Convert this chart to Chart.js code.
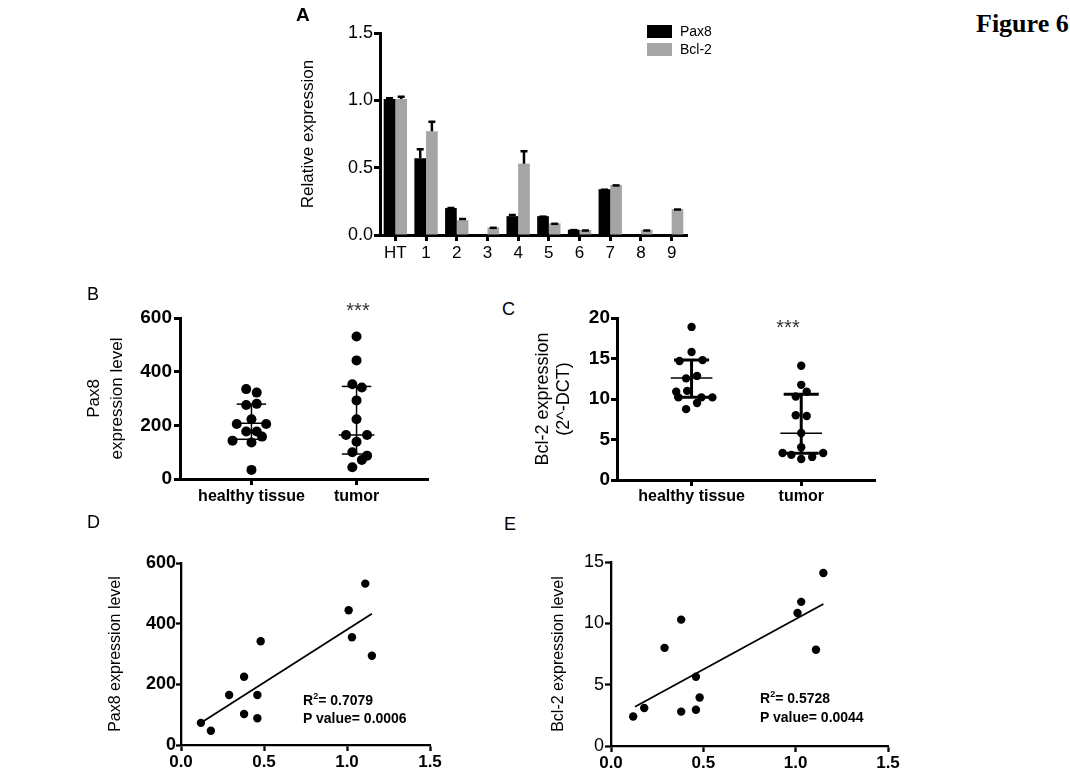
<!DOCTYPE html>
<html>
<head>
<meta charset="utf-8">
<script src="https://cdn.jsdelivr.net/npm/chart.js@4.4.0/dist/chart.umd.min.js"></script>
<style>
  body { margin: 0; background: #fff; }
  #page { position: relative; width: 1070px; height: 783px; overflow: hidden; font-family: "Liberation Sans", Arial, sans-serif; }
  canvas { position: absolute; }
  .txt { position: absolute; line-height: 1; white-space: nowrap; color: #000; }
  .legrow { height: 18px; display: flex; align-items: center; font-size: 14px; }
  .box { width: 25px; height: 13px; margin-right: 8px; }
</style>
</head>
<body>
<div id="page">
  <canvas id="chartA" width="430" height="270" style="left:290px;top:0px"></canvas>
  <canvas id="chartB" width="370" height="230" style="left:80px;top:280px"></canvas>
  <canvas id="chartC" width="360" height="220" style="left:520px;top:290px"></canvas>
  <canvas id="chartD" width="370" height="273" style="left:80px;top:510px"></canvas>
  <canvas id="chartE" width="370" height="273" style="left:540px;top:510px"></canvas>

  <div class="txt" style="left:976px;top:9px;font:bold 26px 'Liberation Serif', 'Times New Roman', serif;">Figure 6</div>
  <div class="txt" style="left:296px;top:5px;font-size:19px;font-weight:bold;">A</div>
  <div class="txt" style="left:87px;top:285px;font-size:18px;">B</div>
  <div class="txt" style="left:502px;top:300px;font-size:18px;">C</div>
  <div class="txt" style="left:87px;top:513px;font-size:18px;">D</div>
  <div class="txt" style="left:504px;top:515px;font-size:18px;">E</div>

  <div class="txt" style="left:328px;top:300px;width:60px;text-align:center;font-size:20px;color:#333;">***</div>
  <div class="txt" style="left:758px;top:317px;width:60px;text-align:center;font-size:20px;color:#333;">***</div>

  <div class="txt" style="left:303px;top:692px;font-size:14px;font-weight:bold;">R<sup style="font-size:9px;">2</sup>= 0.7079</div>
  <div class="txt" style="left:303px;top:711px;font-size:14px;font-weight:bold;">P value= 0.0006</div>
  <div class="txt" style="left:760px;top:690px;font-size:14px;font-weight:bold;">R<sup style="font-size:9px;">2</sup>= 0.5728</div>
  <div class="txt" style="left:760px;top:710px;font-size:14px;font-weight:bold;">P value= 0.0044</div>

  <div id="legendA" class="txt" style="left:647px;top:22px;"></div>
</div>
<script>
// A: relative expression per sample
const samples = ['HT', '1', '2', '3', '4', '5', '6', '7', '8', '9'];
const seriesNames = ['Pax8', 'Bcl-2'];
const pax8Rel = [1.01, 0.57, 0.20, 0, 0.14, 0.14, 0.04, 0.34, 0, 0];
const pax8Err = [0.01, 0.07, 0.005, 0, 0.012, 0, 0, 0, 0, 0];
const bcl2Rel = [1.01, 0.77, 0.11, 0.057, 0.53, 0.087, 0.037, 0.372, 0.037, 0.193];
const bcl2Err = [0.02, 0.075, 0.012, 0, 0.095, 0, 0, 0, 0, 0];

// B: Pax8 expression level (dot plot)
const groups = ['healthy tissue', 'tumor'];
const pax8HealthyX = [0.95, 1.05, 0.95, 1.05, 1.00, 0.86, 1.14, 0.95, 1.05, 0.82, 1.10, 1.00, 1.00];
const pax8Healthy = [335, 322, 276, 280, 223, 205, 205, 177, 177, 143, 158, 136, 34];
const pax8TumorX = [2.00, 2.00, 1.96, 2.05, 2.00, 2.00, 1.90, 2.10, 2.00, 1.96, 2.10, 2.05, 1.96];
const pax8Tumor = [531, 442, 353, 341, 293, 223, 164, 164, 139, 100, 87, 71, 44];
const pax8HealthyStats = [148, 208, 279];
const pax8TumorStats = [93, 164, 345];

// C: Bcl-2 expression (2^-DCT)
const bcl2HealthyX = [1.00, 1.00, 0.89, 1.10, 0.95, 1.05, 0.86, 0.96, 0.88, 1.09, 1.19, 1.05, 0.95];
const bcl2Healthy = [18.9, 15.8, 14.7, 14.8, 12.55, 12.85, 10.9, 11.0, 10.2, 10.2, 10.2, 9.5, 8.75];
const bcl2TumorX = [2.00, 2.00, 2.05, 1.95, 1.95, 2.05, 2.00, 2.00, 1.83, 1.91, 2.00, 2.10, 2.20];
const bcl2Tumor = [14.1, 11.75, 10.9, 10.3, 8.0, 7.9, 5.8, 4.05, 3.33, 3.1, 2.6, 2.85, 3.33];
const bcl2HealthyStats = [10.23, 12.6, 14.8];
const bcl2TumorStats = [3.3, 5.77, 10.6];

// D, E: correlation with tumor relative expression
const tumorRel = [0.12, 0.18, 0.29, 0.38, 0.38, 0.46, 0.46, 0.48, 1.01, 1.03, 1.11, 1.15];
const pax8Level = [73, 47, 165, 225, 102, 165, 88, 342, 444, 355, 532, 294];
const bcl2Level = [2.4, 3.1, 8.0, 10.3, 2.8, 5.65, 2.95, 3.95, 10.85, 11.75, 7.85, 14.1];
const fitX = [0.13, 1.15];
const pax8FitY = [77, 433];
const bcl2FitY = [3.2, 11.57];

const black = '#000';
const barColors = ['#000000', '#a5a5a5'];

Chart.defaults.font.family = "'Liberation Sans', Arial, sans-serif";
Chart.defaults.color = black;

const toPoints = (xs, ys) => xs.map((x, i) => ({ x: x, y: ys[i] }));
const gridOf = (lw, len) => ({ drawOnChartArea: false, drawTicks: true, tickLength: len, tickWidth: lw, tickColor: black, offset: false });
const borderOf = (lw) => ({ display: true, color: black, width: lw });
const fixW = (w) => (s) => { s.width = w; };
const fixH = (h) => (s) => { s.height = h; };
const onlyTicks = (vals) => (s) => { s.ticks = vals.map(v => ({ value: v })); };

const errorBars = {
    id: 'errorBars',
    afterDatasetsDraw(chart) {
        const ctx = chart.ctx;
        const y = chart.scales.y;
        chart.data.datasets.forEach((ds, i) => {
            chart.getDatasetMeta(i).data.forEach((bar, j) => {
                const v = ds.data[j];
                if (!v) return;
                const top = y.getPixelForValue(v + ds.errors[j]);
                ctx.save();
                ctx.strokeStyle = black;
                ctx.lineWidth = 2.5;
                ctx.beginPath();
                ctx.moveTo(bar.x, bar.y);
                ctx.lineTo(bar.x, top);
                ctx.moveTo(bar.x - 3.5, top + 0.5);
                ctx.lineTo(bar.x + 3.5, top + 0.5);
                ctx.stroke();
                ctx.restore();
            });
        });
    }
};

const summaryLines = {
    id: 'summaryLines',
    beforeDatasetsDraw(chart, args, opts) {
        const ctx = chart.ctx;
        const x = chart.scales.x, y = chart.scales.y;
        const seg = (x0, v0, x1, v1, w) => {
            ctx.lineWidth = w;
            ctx.beginPath();
            ctx.moveTo(x.getPixelForValue(x0), y.getPixelForValue(v0));
            ctx.lineTo(x.getPixelForValue(x1), y.getPixelForValue(v1));
            ctx.stroke();
        };
        ctx.save();
        ctx.strokeStyle = black;
        chart.data.datasets.forEach((ds) => {
            const c = ds.center;
            const lo = ds.stats[0], mid = ds.stats[1], hi = ds.stats[2];
            seg(c, lo, c, hi, opts.barWidth);
            seg(c - opts.barHalf, lo, c + opts.barHalf, lo, opts.barWidth);
            seg(c - opts.barHalf, hi, c + opts.barHalf, hi, opts.barWidth);
            seg(c - opts.midHalf, mid, c + opts.midHalf, mid, opts.midWidth);
        });
        ctx.restore();
    }
};

// legend for A
const legendA = document.getElementById('legendA');
seriesNames.forEach((name, i) => {
    const row = document.createElement('div');
    row.className = 'legrow';
    row.innerHTML = '<span class="box" style="background:' + barColors[i] + '"></span>' + name;
    legendA.appendChild(row);
});

new Chart(document.getElementById('chartA'), {
    type: 'bar',
    data: {
        labels: samples,
        datasets: [
            { label: seriesNames[0], data: pax8Rel, errors: pax8Err, backgroundColor: barColors[0] },
            { label: seriesNames[1], data: bcl2Rel, errors: bcl2Err, backgroundColor: barColors[1] }
        ]
    },
    options: {
        responsive: false,
        animation: false,
        layout: { padding: { top: 33, right: 33, left: 0, bottom: 0 } },
        plugins: { legend: { display: false }, tooltip: { enabled: false } },
        datasets: { bar: { categoryPercentage: 0.76, barPercentage: 1.0 } },
        scales: {
            x: {
                grid: gridOf(3, 6),
                border: borderOf(3),
                ticks: { font: { size: 17 }, padding: 2, autoSkip: false, maxRotation: 0 },
                afterFit: fixH(35)
            },
            y: {
                min: 0,
                max: 1.5,
                grid: gridOf(3, 6),
                border: borderOf(3),
                ticks: { stepSize: 0.5, font: { size: 18 }, padding: 1, callback: v => v.toFixed(1) },
                title: { display: true, text: 'Relative expression', font: { size: 17 }, padding: { top: 8, bottom: 0 } },
                afterFit: fixW(90)
            }
        }
    },
    plugins: [errorBars]
});

new Chart(document.getElementById('chartB'), {
    type: 'scatter',
    data: {
        datasets: [
            { data: toPoints(pax8HealthyX, pax8Healthy), center: 1, stats: pax8HealthyStats },
            { data: toPoints(pax8TumorX, pax8Tumor), center: 2, stats: pax8TumorStats }
        ]
    },
    options: {
        responsive: false,
        animation: false,
        layout: { padding: { top: 38, right: 22, left: 0, bottom: 0 } },
        elements: { point: { radius: 5, backgroundColor: black, borderWidth: 0 } },
        plugins: {
            legend: { display: false }, tooltip: { enabled: false },
            summaryLines: { barWidth: 1.5, barHalf: 0.14, midWidth: 1.5, midHalf: 0.17 }
        },
        scales: {
            x: {
                min: 0.32,
                max: 2.68,
                grid: gridOf(3, 6),
                border: borderOf(3),
                ticks: { font: { size: 16, weight: 'bold' }, padding: 2, autoSkip: false, maxRotation: 0, callback: v => groups[v - 1] },
                afterBuildTicks: onlyTicks([1, 2]),
                afterFit: fixH(31)
            },
            y: {
                min: 0,
                max: 600,
                grid: gridOf(3, 6),
                border: borderOf(3),
                ticks: { stepSize: 200, font: { size: 19, weight: 'bold' }, padding: 2 },
                title: { display: true, text: ['Pax8', 'expression level'], font: { size: 17, lineHeight: 1.4 }, padding: { top: 2, bottom: 0 } },
                afterFit: fixW(100)
            }
        }
    },
    plugins: [summaryLines]
});

new Chart(document.getElementById('chartC'), {
    type: 'scatter',
    data: {
        datasets: [
            { data: toPoints(bcl2HealthyX, bcl2Healthy), center: 1, stats: bcl2HealthyStats },
            { data: toPoints(bcl2TumorX, bcl2Tumor), center: 2, stats: bcl2TumorStats }
        ]
    },
    options: {
        responsive: false,
        animation: false,
        layout: { padding: { top: 28, right: 2, left: 0, bottom: 0 } },
        elements: { point: { radius: 4.2, backgroundColor: black, borderWidth: 0 } },
        plugins: {
            legend: { display: false }, tooltip: { enabled: false },
            summaryLines: { barWidth: 3, barHalf: 0.16, midWidth: 1.5, midHalf: 0.19 }
        },
        scales: {
            x: {
                min: 0.32,
                max: 2.68,
                grid: gridOf(3, 6),
                border: borderOf(3),
                ticks: { font: { size: 16, weight: 'bold' }, padding: 1, autoSkip: false, maxRotation: 0, callback: v => groups[v - 1] },
                afterBuildTicks: onlyTicks([1, 2]),
                afterFit: fixH(30)
            },
            y: {
                min: 0,
                max: 20,
                grid: gridOf(3, 6),
                border: borderOf(3),
                ticks: { stepSize: 5, font: { size: 19, weight: 'bold' }, padding: 1 },
                title: { display: true, text: ['Bcl-2 expression', '(2^-DCT)'], font: { size: 18, lineHeight: 1.2 }, padding: { top: 12, bottom: 0 } },
                afterFit: fixW(97)
            }
        }
    },
    plugins: [summaryLines]
});

function corrChart(id, ys, fitY, opts) {
    return new Chart(document.getElementById(id), {
        type: 'scatter',
        data: {
            datasets: [
                { data: toPoints(tumorRel, ys), pointRadius: 4.2, backgroundColor: black, borderWidth: 0 },
                { data: toPoints(fitX, fitY), showLine: true, pointRadius: 0, borderColor: black, borderWidth: 1.8 }
            ]
        },
        options: {
            responsive: false,
            animation: false,
            layout: { padding: { top: opts.top, right: opts.right, left: 0, bottom: 0 } },
            plugins: { legend: { display: false }, tooltip: { enabled: false } },
            scales: {
                x: {
                    min: 0,
                    max: 1.5,
                    grid: gridOf(2.3, 6),
                    border: borderOf(2.3),
                    ticks: { stepSize: 0.5, font: { size: 17, weight: 'bold' }, padding: 1, callback: v => v.toFixed(1) },
                    afterFit: fixH(opts.xh)
                },
                y: {
                    min: 0,
                    max: opts.ymax,
                    grid: gridOf(2.3, opts.ytick),
                    border: borderOf(2.3),
                    ticks: { stepSize: opts.ystep, font: { size: 18, weight: opts.yweight }, padding: opts.ypad },
                    title: { display: true, text: opts.title, font: { size: 16 }, padding: { top: opts.titlePad, bottom: 0 } },
                    afterFit: fixW(opts.yw)
                }
            }
        }
    });
}

corrChart('chartD', pax8Level, pax8FitY,
    { top: 53, right: 20, xh: 38, yw: 101, ymax: 600, ystep: 200, ytick: 5, ypad: 0, yweight: 'bold', title: 'Pax8 expression level', titlePad: 26 });
corrChart('chartE', bcl2Level, bcl2FitY,
    { top: 52, right: 22, xh: 37, yw: 71, ymax: 15, ystep: 5, ytick: 6, ypad: 1, yweight: 'normal', title: 'Bcl-2 expression level', titlePad: 9 });
</script>
</body>
</html>
